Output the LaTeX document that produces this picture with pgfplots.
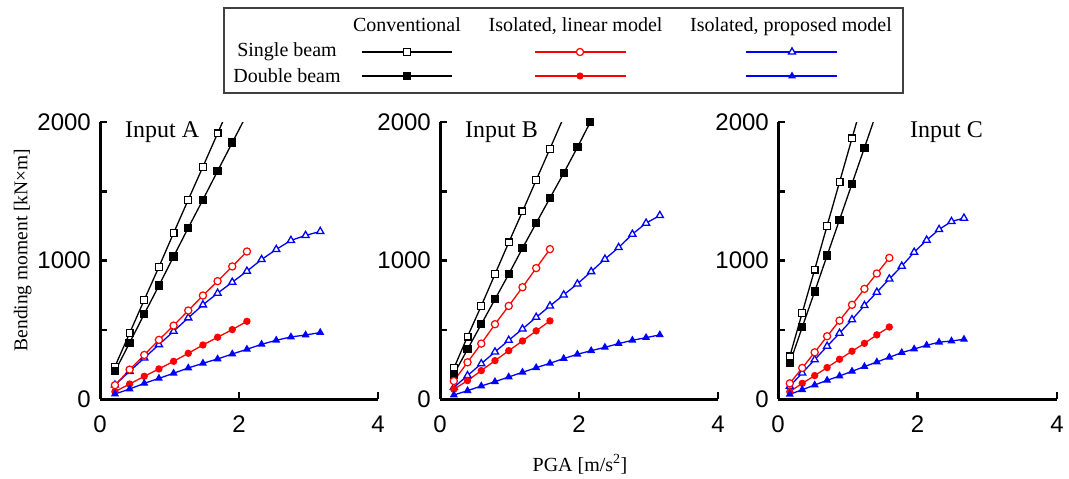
\documentclass[border=0pt]{standalone}
\usepackage{fontspec}
\setmainfont{Liberation Serif}
\setsansfont{Liberation Sans}
\usepackage{pgfplots}
\pgfplotsset{compat=1.18}

\pgfplotsset{
  panel/.style={
    scale only axis, width=278pt, height=277pt, anchor=south west,
    xmin=0, xmax=4, ymin=0, ymax=2000,
    axis x line=bottom, axis y line=left,
    axis line style={-, line width=3pt},
    tick align=inside, major tick length=7pt,
    tick style={black, line width=2.5pt},
    xtick={0,2,4}, ytick={0,500,1000,1500,2000},
    xticklabels={0,2,4}, yticklabels={0,,1000,,2000},
    tick label style={font=\fontsize{24}{24}\selectfont\sffamily, inner sep=0pt},
    yticklabel style={xshift=-9pt},
    xticklabel style={yshift=-17pt},
    /pgf/number format/assume math mode=true,
  },
  os/.style={black, line width=1.3pt, mark=square*, mark size=3.4pt, mark options={fill=white, line width=1.2pt}},
  fs/.style={black, line width=1.3pt, mark=square*, mark size=3.5pt},
  oc/.style={red, line width=1.3pt, mark=*, mark size=3.6pt, mark options={fill=white, line width=1.2pt}},
  fc/.style={red, line width=1.3pt, mark=*, mark size=3pt},
  ot/.style={blue, line width=1.3pt, mark=triangle*, mark size=4.1pt, mark options={fill=white, line width=1.3pt}},
  ft/.style={blue, line width=1.3pt, mark=triangle*, mark size=3.4pt},
}
\tikzset{
  inp/.style={anchor=base west, inner sep=0pt, font=\fontsize{24}{24}\selectfont},
  lt/.style={anchor=base, inner sep=0pt, font=\fontsize{20}{20}\selectfont},
}

\begin{document}
\begin{tikzpicture}
\useasboundingbox (0pt,0pt) rectangle (1069pt,-479pt);

% ---------------- Panel A ----------------
\begin{axis}[panel, at={(100pt,-399pt)}]
\addplot[os, mark indices={1,2,3,4,5,6,7,8}] coordinates {(0.215,234)(0.426,475)(0.637,716)(0.848,954)(1.059,1198)(1.270,1439)(1.481,1677)(1.692,1918)(1.903,2158)};
\addplot[fs, mark indices={1,2,3,4,5,6,7,8,9}] coordinates {(0.215,200)(0.426,405)(0.637,614)(0.848,819)(1.059,1029)(1.270,1236)(1.481,1439)(1.692,1646)(1.903,1851)(2.114,2056)};
\addplot[ot] coordinates {(0.215,101)(0.426,200)(0.637,296)(0.848,393)(1.059,489)(1.270,586)(1.481,680)(1.692,764)(1.903,843)(2.114,923)(2.325,1007)(2.536,1080)(2.747,1145)(2.958,1181)(3.169,1210)};
\addplot[oc] coordinates {(0.215,100)(0.426,212)(0.637,318)(0.848,427)(1.059,530)(1.270,639)(1.481,747)(1.692,851)(1.903,957)(2.114,1065)};
\addplot[fc] coordinates {(0.215,53)(0.426,108)(0.637,164)(0.848,217)(1.059,272)(1.270,330)(1.481,390)(1.692,446)(1.903,501)(2.114,561)};
\addplot[ft] coordinates {(0.215,36)(0.426,72)(0.637,113)(0.848,149)(1.059,186)(1.270,224)(1.481,258)(1.692,289)(1.903,325)(2.114,359)(2.325,395)(2.536,424)(2.747,448)(2.958,462)(3.169,480)};
\end{axis}

% ---------------- Panel B ----------------
\begin{axis}[panel, at={(440pt,-399pt)}]
\addplot[os, mark indices={1,2,3,4,5,6,7,8}] coordinates {(0.199,222)(0.396,451)(0.594,672)(0.791,901)(0.989,1130)(1.187,1354)(1.384,1581)(1.582,1807)(1.780,2035)};
\addplot[fs] coordinates {(0.199,178)(0.396,359)(0.594,540)(0.791,720)(0.989,901)(1.187,1089)(1.384,1270)(1.582,1451)(1.780,1631)(1.977,1817)(2.163,2000)};
\addplot[ot] coordinates {(0.199,84)(0.396,169)(0.594,255)(0.791,340)(0.989,424)(1.187,506)(1.384,590)(1.582,672)(1.780,752)(1.977,831)(2.175,920)(2.373,1010)(2.570,1094)(2.768,1190)(2.965,1270)(3.163,1325)};
\addplot[oc] coordinates {(0.199,130)(0.396,265)(0.594,400)(0.791,540)(0.989,672)(1.187,807)(1.384,945)(1.582,1082)};
\addplot[fc] coordinates {(0.199,70)(0.396,133)(0.594,205)(0.791,277)(0.989,349)(1.187,419)(1.384,492)(1.582,564)};
\addplot[ft] coordinates {(0.199,29)(0.396,60)(0.594,94)(0.791,125)(0.989,159)(1.187,193)(1.384,226)(1.582,258)(1.780,292)(1.977,323)(2.175,349)(2.373,373)(2.570,400)(2.768,424)(2.965,443)(3.163,463)};
\end{axis}

% ---------------- Panel C ----------------
\begin{axis}[panel, at={(778pt,-399pt)}, width=279pt]
\addplot[os, mark indices={1,2,3,4,5,6}] coordinates {(0.169,308)(0.347,622)(0.526,935)(0.704,1251)(0.882,1566)(1.061,1882)(1.239,2197)};
\addplot[fs, mark indices={1,2,3,4,5,6,7}] coordinates {(0.169,258)(0.347,518)(0.526,776)(0.704,1036)(0.882,1294)(1.061,1554)(1.239,1814)(1.417,2074)};
\addplot[ot] coordinates {(0.169,92)(0.347,188)(0.526,284)(0.704,381)(0.882,475)(1.061,573)(1.239,675)(1.417,771)(1.596,867)(1.774,959)(1.952,1060)(2.131,1147)(2.309,1224)(2.487,1282)(2.666,1306)};
\addplot[oc] coordinates {(0.169,113)(0.347,224)(0.526,337)(0.704,453)(0.882,566)(1.061,680)(1.239,795)(1.417,906)(1.596,1019)};
\addplot[fc] coordinates {(0.169,53)(0.347,113)(0.526,169)(0.704,227)(0.882,287)(1.061,345)(1.239,402)(1.417,463)(1.596,520)};
\addplot[ft] coordinates {(0.169,34)(0.347,67)(0.526,101)(0.704,135)(0.882,166)(1.061,200)(1.239,234)(1.417,267)(1.596,301)(1.774,335)(1.952,361)(2.131,388)(2.309,410)(2.487,419)(2.666,431)};
\end{axis}

% ---------------- Legend and common labels ----------------
\begin{axis}[at={(0pt,0pt)}, anchor=north west, scale only axis, width=1069pt, height=479pt,
  xmin=0, xmax=1069, ymin=-479, ymax=0, hide axis, clip=false]
\draw[line width=1.2pt, black!75] (axis cs:224,-8) rectangle (axis cs:903,-93);
\node[lt] at (axis cs:407,-31.5) {Conventional};
\node[lt] at (axis cs:575.5,-31.5) {Isolated, linear model};
\node[lt] at (axis cs:791,-31.5) {Isolated, proposed model};
\node[lt] at (axis cs:287,-56.7) {Single beam};
\node[lt] at (axis cs:287,-82.7) {Double beam};
\addplot[os, line width=1.1pt, mark indices={2}] coordinates {(362,-52)(407,-52)(452,-52)};
\addplot[fs, line width=1.1pt, mark indices={2}] coordinates {(362,-76)(407,-76)(452,-76)};
\addplot[oc, line width=1.1pt, mark indices={2}] coordinates {(535,-52)(580,-52)(626,-52)};
\addplot[fc, line width=1.1pt, mark indices={2}] coordinates {(535,-76)(580,-76)(626,-76)};
\addplot[ot, line width=1.1pt, mark indices={2}] coordinates {(746,-52)(792,-52)(837,-52)};
\addplot[ft, line width=1.1pt, mark indices={2}] coordinates {(746,-76)(792,-76)(837,-76)};
\node[inp] at (axis cs:125,-137) {Input A};
\node[inp] at (axis cs:465,-137) {Input B};
\node[inp] at (axis cs:910,-137) {Input C};
\node[anchor=base, inner sep=0pt, rotate=90, font=\fontsize{19.5}{19.5}\selectfont] at (axis cs:27.5,-250) {Bending moment [kN×m]};
\node[anchor=base, inner sep=0pt, font=\fontsize{20}{20}\selectfont] at (axis cs:580,-471) {PGA [m/s\textsuperscript{2}]};
\end{axis}
\end{tikzpicture}
\end{document}
